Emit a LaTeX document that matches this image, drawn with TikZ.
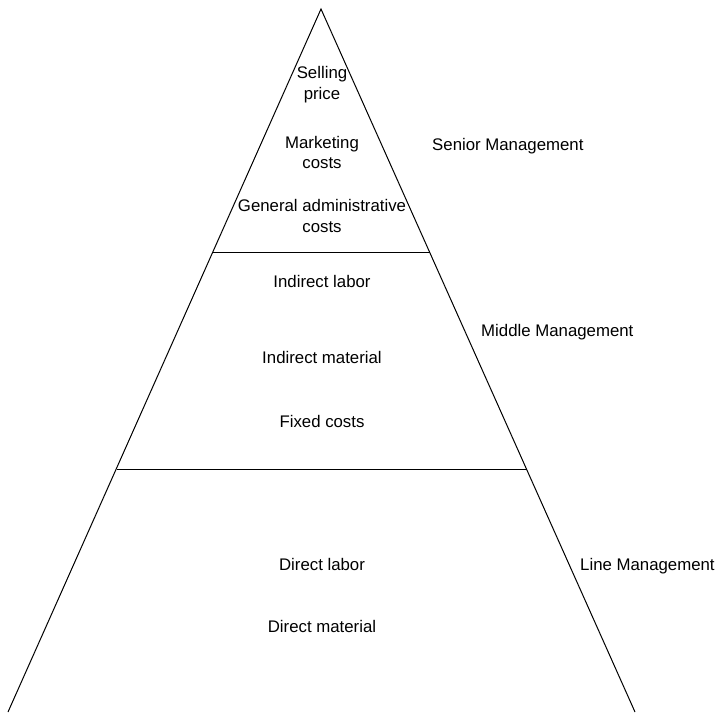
\documentclass[tikz,border=0pt]{standalone}
\usepackage{fontspec}
\setmainfont{Liberation Sans}
\begin{document}
\begin{tikzpicture}[x=1pt,y=-1pt,
  edge/.style={line width=1pt,black},
  lbl/.style={font=\fontsize{16.8}{21}\selectfont,inner sep=0pt,anchor=base,align=center},
  mgmt/.style={font=\fontsize{16.8}{21}\selectfont,inner sep=0pt,anchor=base west}]
\useasboundingbox (0,0) rectangle (720,712);
\clip (0,0) rectangle (720,712);
\coordinate (apex) at (321,9);
\coordinate (bl) at (8,712);
\coordinate (br) at (635,712);
\coordinate (l1) at (213,252);
\coordinate (r1) at (429.5,252);
\coordinate (l2) at (116.5,469);
\coordinate (r2) at (526.5,469);
\draw[edge] (bl) -- (apex) -- (br);
\draw[edge] (l1) -- (r1);
\draw[edge] (l2) -- (r2);
\node[lbl] (sp1) at (322,78) {Selling};
\node[lbl] (sp2) at (322,99) {price};
\node[lbl] (mc1) at (322,148) {Marketing};
\node[lbl] (mc2) at (322,168) {costs};
\node[lbl] (ga1) at (322,211) {General administrative};
\node[lbl] (ga2) at (322,232) {costs};
\node[mgmt] (sm) at (432,150) {Senior Management};
\node[lbl] (il) at (322,287) {Indirect labor};
\node[mgmt] (mm) at (481,336) {Middle Management};
\node[lbl] (im) at (322,363) {Indirect material};
\node[lbl] (fc) at (322,427) {Fixed costs};
\node[lbl] (dl) at (322,570) {Direct labor};
\node[mgmt] (lm) at (580,570) {Line Management};
\node[lbl] (dm) at (322,632) {Direct material};
\end{tikzpicture}
\end{document}
